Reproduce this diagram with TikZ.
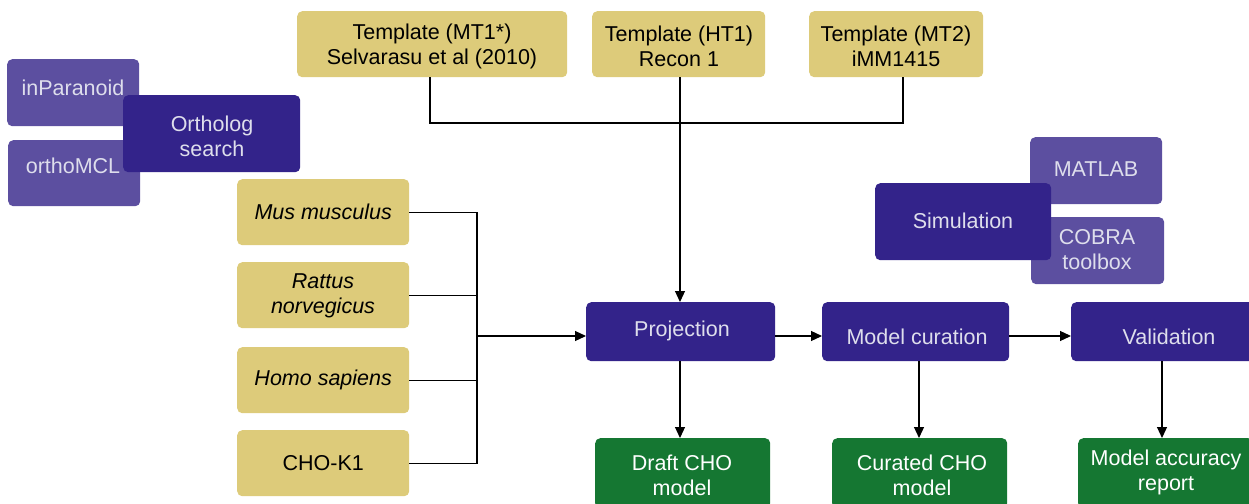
\documentclass[tikz,border=0pt]{standalone}
\usepackage{fontspec}
\setmainfont{Liberation Sans}
\usetikzlibrary{arrows.meta}
\definecolor{khaki}{RGB}{221,203,122}
\definecolor{deeppurple}{RGB}{51,35,138}
\definecolor{softpurple}{RGB}{92,79,160}
\definecolor{leafgreen}{RGB}{21,119,50}
\definecolor{paletext}{RGB}{222,222,236}
\begin{document}
\begin{tikzpicture}[x=1pt,y=-1pt,
  every node/.style={font=\fontsize{21.5}{25}\selectfont, align=center, inner sep=0pt},
  box/.style={rounded corners=5pt, anchor=north west},
  inputbox/.style={box, fill=khaki, text=black},
  stagebox/.style={box, fill=deeppurple, text=paletext},
  toolbox/.style={box, fill=softpurple, text=paletext},
  outbox/.style={box, fill=leafgreen, text=white},
  link/.style={line width=1.2pt, black},
  flow/.style={link, -{Triangle[length=11pt,width=10pt]}}]
\useasboundingbox (0,0) rectangle (1249,503);

% templates
\node[inputbox, minimum width=270, minimum height=66] (mt1) at (297,11) {};
\node (mt1txt) at (432,46) {Template (MT1*)\\Selvarasu et al (2010)};
\node[inputbox, minimum width=173, minimum height=66] (ht1) at (592,11) {};
\node (ht1txt) at (679,46) {Template (HT1)\\Recon 1};
\node[inputbox, minimum width=174, minimum height=66] (mt2) at (809,11) {};
\node (mt2txt) at (896,46) {Template (MT2)\\iMM1415};

% ortholog search tools
\node[toolbox, minimum width=132, minimum height=67] (inpar) at (7,59) {};
\node (inpartxt) at (73,88) {\textcolor{paletext}{inParanoid}};
\node[toolbox, minimum width=132, minimum height=66] (omcl) at (8,140) {};
\node (omcltxt) at (73,166) {\textcolor{paletext}{orthoMCL}};
\node[stagebox, minimum width=177, minimum height=77] (orth) at (123,95) {};
\node (orthtxt) at (212,136) {\textcolor{paletext}{Ortholog}\\\textcolor{paletext}{search}};

% species
\node[inputbox, minimum width=172, minimum height=66] (mus) at (237,179) {\itshape Mus musculus};
\node[inputbox, minimum width=172, minimum height=66] (rat) at (237,262) {};
\node (rattxt) at (323,296) {\itshape Rattus\\\itshape norvegicus};
\node[inputbox, minimum width=172, minimum height=66] (homo) at (237,347) {\itshape Homo sapiens};
\node[inputbox, minimum width=172, minimum height=66] (cho) at (237,430) {CHO-K1};

% simulation tools
\node[toolbox, minimum width=132, minimum height=67] (matlab) at (1030,137) {};
\node (matlabtxt) at (1096,169) {\textcolor{paletext}{MATLAB}};
\node[toolbox, minimum width=133, minimum height=67] (cobra) at (1031,217) {};
\node (cobratxt) at (1097,250) {\textcolor{paletext}{COBRA}\\\textcolor{paletext}{toolbox}};
\node[stagebox, minimum width=176, minimum height=77] (sim) at (875,183) {};
\node (simtxt) at (963,221) {\textcolor{paletext}{Simulation}};

% pipeline stages
\node[stagebox, minimum width=189, minimum height=59] (proj) at (586,302) {};
\node (projtxt) at (682,331) {\textcolor{paletext}{Projection}};
\node[stagebox, minimum width=187, minimum height=59] (cur) at (822,302) {};
\node (curtxt) at (917,337) {\textcolor{paletext}{Model curation}};
\node[stagebox, minimum width=185, minimum height=59] (val) at (1071,302) {};
\node (valtxt) at (1169,337) {\textcolor{paletext}{Validation}};

% outputs
\node[outbox, minimum width=175, minimum height=70] (draft) at (595,438) {};
\node (drafttxt) at (682,475) {\textcolor{white}{Draft CHO}\\\textcolor{white}{model}};
\node[outbox, minimum width=175, minimum height=70] (curated) at (832,438) {};
\node (curatedtxt) at (922,475) {\textcolor{white}{Curated CHO}\\\textcolor{white}{model}};
\node[outbox, minimum width=175, minimum height=70] (report) at (1078,438) {};
\node (reporttxt) at (1166,472) {\textcolor{white}{Model accuracy}\\\textcolor{white}{report}};

% template merge into projection
\coordinate (tbus) at (680,123);
\draw[link] (mt1.south -| 430,0) |- (tbus);
\draw[link] (mt2.south -| 903,0) |- (tbus);
\draw[flow] (ht1.south -| 680,0) -- (proj.north -| 680,0);

% species merge into projection
\coordinate (sbus) at (477,336);
\draw[link] (mus.east) -| (sbus);
\draw[link] (rat.east) -| (sbus);
\draw[link] (homo.east) -| (sbus);
\draw[link] (cho.east) -| (sbus);
\draw[flow] (sbus) -- (proj.west |- sbus);

% pipeline
\draw[flow] (proj.east |- 0,336) -- (cur.west |- 0,336);
\draw[flow] (cur.east |- 0,336) -- (val.west |- 0,336);
\draw[flow] (proj.south -| 680,0) -- (draft.north -| 680,0);
\draw[flow] (cur.south -| 919,0) -- (curated.north -| 919,0);
\draw[flow] (val.south -| 1162,0) -- (report.north -| 1162,0);
\end{tikzpicture}
\end{document}
